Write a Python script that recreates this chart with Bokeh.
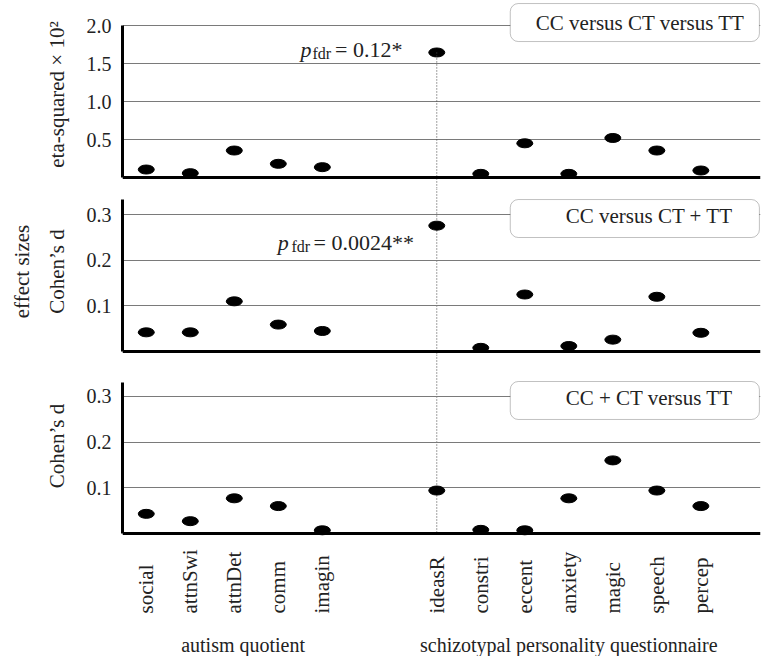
import math
from bokeh.plotting import figure
from bokeh.models import (Range1d, FixedTicker, BoxAnnotation, Label, Span, ColumnDataSource,
                          PrintfTickFormatter, Title)
from bokeh.layouts import column
from bokeh.embed import file_html
from bokeh.resources import INLINE
from bokeh.core.properties import value

# ---------------- data ----------------
aq_items = ["social", "attnSwi", "attnDet", "comm", "imagin"]
spq_items = ["ideasR", "constri", "eccent", "anxiety", "magic", "speech", "percep"]
group_names = ["autism quotient", "schizotypal personality questionnaire"]

eta_squared_x100 = [0.105, 0.057, 0.355, 0.18, 0.136,
                    1.645, 0.048, 0.45, 0.048, 0.52, 0.355, 0.092]
d_cc_vs_ct_tt = [0.042, 0.042, 0.11, 0.059, 0.045,
                 0.276, 0.008, 0.125, 0.012, 0.026, 0.12, 0.041]
d_ccct_vs_tt = [0.043, 0.027, 0.077, 0.06, 0.007,
                0.094, 0.008, 0.007, 0.077, 0.16, 0.094, 0.06]

comparisons = ["CC versus CT versus TT", "CC versus CT + TT", "CC + CT versus TT"]
p_fdr_texts = ["= 0.12*", "= 0.0024**"]
eta_ticks = [0.5, 1.0, 1.5, 2.0]
d_ticks = [0.1, 0.2, 0.3]

# ---------------- layout ----------------
FONT = "Liberation Serif"
TXT = "#222222"
SPQ_START = 6.6
xs = list(range(len(aq_items))) + [SPQ_START + i for i in range(len(spq_items))]
cats = aq_items + spq_items
highlight = cats.index("ideasR")

W = 765
BL = 115
BR = 5
xr = Range1d(-0.54, 13.955)


def make_panel(values, height, y_start, y_end, ticks, bound_top, axis_label):
    p = figure(width=W, height=height, x_range=xr, y_range=Range1d(y_start, y_end),
               output_backend="svg", toolbar_location=None, x_axis_location=None,
               min_border_left=BL, min_border_right=BR, min_border_top=0, min_border_bottom=0,
               outline_line_color=None, background_fill_color="white",
               border_fill_color="white")
    p.xgrid.visible = False
    p.ygrid.ticker = FixedTicker(ticks=ticks)
    p.ygrid.grid_line_color = "#7a7a7a"
    p.ygrid.grid_line_width = 1
    ax = p.yaxis[0]
    ax.ticker = FixedTicker(ticks=ticks)
    ax.formatter = PrintfTickFormatter(format="%.1f")
    ax.bounds = (0, bound_top)
    ax.axis_line_width = 3
    ax.axis_line_color = "black"
    ax.major_tick_line_color = None
    ax.minor_tick_line_color = None
    ax.major_tick_out = 0
    ax.major_tick_in = 0
    ax.major_label_standoff = 11
    ax.major_label_text_font = FONT
    ax.major_label_text_font_size = "20px"
    ax.major_label_text_color = TXT
    ax.axis_label = axis_label
    ax.axis_label_text_font = FONT
    ax.axis_label_text_font_size = "21px"
    ax.axis_label_text_font_style = "normal"
    ax.axis_label_text_color = TXT
    ax.axis_label_standoff = 15
    p.add_layout(Span(location=0, dimension="width", line_color="black", line_width=3))
    src = ColumnDataSource(dict(x=xs, y=values))
    p.ellipse(x="x", y="y", width=16, height=9, width_units="screen", height_units="screen",
              fill_color="black", line_color="black", source=src)
    return p


def add_box(p, left, right, top, bottom, text, tx, ty):
    p.add_layout(BoxAnnotation(left=left, right=right, top=top, bottom=bottom,
                               fill_color="white", fill_alpha=1, line_color="#333333",
                               line_width=1, border_radius=8))
    p.add_layout(Label(x=tx, y=ty, text=text, text_font=FONT, text_font_size="21px",
                       text_color=TXT, text_baseline="middle", text_align="left"))


def add_pfdr(p, xp, yb, xs_, ysb, xe, text):
    p.add_layout(Label(x=xp, y=yb, text="p", text_font=FONT, text_font_size="22px",
                       text_font_style="italic", text_color=TXT, text_baseline="alphabetic"))
    p.add_layout(Label(x=xs_, y=ysb, text="fdr", text_font=FONT, text_font_size="16px",
                       text_color=TXT, text_baseline="alphabetic"))
    p.add_layout(Label(x=xe, y=yb, text=text, text_font=FONT, text_font_size="22px",
                       text_color=TXT, text_baseline="alphabetic"))


DOT = dict(line_color="#444444", line_dash="1 2", line_width=1)

# top panel
p1 = make_panel(eta_squared_x100, 188, -0.1447, 2.329, eta_ticks, 2.0, "eta-squared × 10²")
add_box(p1, 8.27, 13.93, 2.289, 1.789, comparisons[0], 8.85, 2.035)
add_pfdr(p1, 3.506, 1.684, 3.775, 1.632, 4.29, p_fdr_texts[0])
p1.segment(x0=[xs[highlight]], y0=[eta_squared_x100[highlight]], x1=[xs[highlight]],
           y1=[p1.y_range.start], **DOT)

# middle panel
p2 = make_panel(d_cc_vs_ct_tt, 166, -0.0066, 0.3575, d_ticks, 0.333, "Cohen’s d")
add_box(p2, 8.27, 13.93, 0.3333, 0.25, comparisons[1], 9.53, 0.2967)
add_pfdr(p2, 2.99, 0.239, 3.30, 0.230, 3.80, p_fdr_texts[1])
p2.segment(x0=[xs[highlight]], y0=[p2.y_range.end], x1=[xs[highlight]],
           y1=[p2.y_range.start], level="underlay", **DOT)
p2.add_layout(Title(text="effect sizes", align="center", standoff=15,
                    text_font=FONT, text_font_size="21px", text_font_style="normal",
                    text_color=TXT), "left")

# bottom panel
p3 = make_panel(d_ccct_vs_tt, 183, -0.00875, 0.3917, d_ticks, 0.330, "Cohen’s d")
add_box(p3, 8.27, 13.93, 0.3326, 0.2495, comparisons[2], 9.53, 0.2965)
p3.segment(x0=[xs[highlight]], y0=[p3.y_range.end], x1=[xs[highlight]],
           y1=[0], level="underlay", **DOT)

# category labels strip
p4 = figure(width=W, height=119, x_range=xr, y_range=Range1d(119, 0),
            output_backend="svg", toolbar_location=None, x_axis_location=None,
            y_axis_location=None, min_border_left=BL, min_border_right=BR,
            min_border_top=0, min_border_bottom=0, outline_line_color=None)
p4.grid.visible = False
p4.text(x=xs, y=[76] * len(xs), text=cats, angle=math.pi / 2, text_align="left",
        text_baseline="middle", text_font=value(FONT), text_font_size="21px", text_color=TXT)
group_x = [sum(xs[:len(aq_items)]) / len(aq_items) + 0.2,
           sum(xs[len(aq_items):]) / len(spq_items)]
p4.text(x=group_x, y=[107, 107], text=group_names, text_align="center",
        text_baseline="alphabetic", text_font=value(FONT), text_font_size="20px",
        text_color=TXT)

layout = column(p1, p2, p3, p4, spacing=0)
open("out.html", "w").write(file_html(layout, INLINE))
